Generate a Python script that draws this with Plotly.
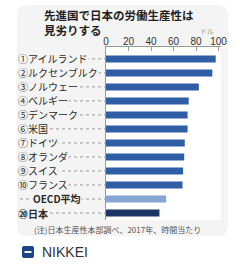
import plotly.graph_objects as go

# ---- data ----
labels = ["①アイルランド", "②ルクセンブルク", "③ノルウェー", "④ベルギー", "⑤デンマーク",
          "⑥米国", "⑦ドイツ", "⑧オランダ", "⑨スイス", "⑩フランス", "OECD平均", "⑳日本"]
values = [97.5, 94.5, 82.5, 73.5, 72.5, 72.5, 70.0, 69.5, 68.5, 68.0, 53.5, 47.5]
tick_vals = [0, 20, 40, 60, 80, 100]
title_lines = ["先進国で日本の労働生産性は", "見劣りする"]
unit_label = "ドル"
footnote = "(注)日本生産性本部調べ、2017年、時間当たり"
brand = "NIKKEI"

# ---- styles ----
MAIN = "#2f5ea6"
OECD = "#85a6d3"
JAPAN = "#1c3564"
CARD = "#f4f4f4"
bar_colors = [OECD if l == "OECD平均" else JAPAN if l == "⑳日本" else MAIN for l in labels]

W, H = 240, 266
L, R, T, B = 106, 19, 47, 46
PW, PH = W - L - R, H - T - B
JP = "Noto Sans CJK JP"


def px(x):
    return (x - L) / PW


def py(y):
    return (H - B - y) / PH


def rounded_rect(x0, y0, x1, y1, r):
    rx = r / PW
    ry = r / PH
    X0, X1 = px(x0), px(x1)
    Y0, Y1 = py(y1), py(y0)
    return (f"M {X0+rx} {Y0} L {X1-rx} {Y0} Q {X1} {Y0} {X1} {Y0+ry} "
            f"L {X1} {Y1-ry} Q {X1} {Y1} {X1-rx} {Y1} L {X0+rx} {Y1} "
            f"Q {X0} {Y1} {X0} {Y1-ry} L {X0} {Y0+ry} Q {X0} {Y0} {X0+rx} {Y0} Z")


fig = go.Figure()
fig.add_trace(go.Bar(
    x=values, y=labels, orientation="h",
    marker=dict(color=bar_colors, line=dict(width=0)),
    width=0.5, hoverinfo="skip",
))

shapes = [
    dict(type="path", xref="paper", yref="paper", path=rounded_rect(17, 5, 228, 236, 10),
         fillcolor=CARD, line=dict(width=0), layer="below"),
    dict(type="rect", xref="paper", yref="paper", x0=0, x1=px(221), y0=0, y1=1,
         fillcolor="white", line=dict(width=0), layer="below"),
    dict(type="path", xref="paper", yref="paper", path=rounded_rect(22, 246, 34, 258, 2),
         fillcolor="#1d4488", line=dict(width=0)),
    dict(type="line", xref="paper", yref="paper", x0=px(24.5), x1=px(31.5), y0=py(252), y1=py(252),
         line=dict(color="white", width=2)),
]
for lab in labels:
    shapes.append(dict(type="line", xref="paper", yref="y", x0=px(20), x1=0, y0=lab, y1=lab,
                       line=dict(color="#9a9a9a", width=1, dash="dot"), layer="above"))

annotations = []
for lab in labels:
    bold = lab in ("OECD平均", "⑳日本")
    xstart = 32 if lab == "OECD平均" else 17
    annotations.append(dict(
        x=px(xstart), xref="paper", y=lab, yref="y", xanchor="left", yanchor="middle",
        text=f"<b>{lab}</b>" if bold else lab, showarrow=False,
        font=dict(family=JP, size=10, color="#2a2a2a"),
        bgcolor=CARD, borderpad=0,
    ))
annotations += [
    dict(x=px(42), y=py(22), xref="paper", yref="paper", xanchor="left", yanchor="middle",
         align="left", text="<br>".join(f"<b>{t}</b>" for t in title_lines), showarrow=False,
         font=dict(family=JP, size=11.5, color="#1e1e1e")),
    dict(x=px(207), y=py(31.5), xref="paper", yref="paper", xanchor="center", yanchor="middle",
         text=unit_label, showarrow=False,
         font=dict(family=JP, size=7, color="#9a9a9a")),
    dict(x=px(32), y=py(229), xref="paper", yref="paper", xanchor="left", yanchor="middle",
         text=footnote, showarrow=False,
         font=dict(family=JP, size=8, color="#555555")),
    dict(x=px(40), y=py(252), xref="paper", yref="paper", xanchor="left", yanchor="middle",
         text=brand, showarrow=False,
         font=dict(family="Liberation Sans", size=14, color="#333333")),
]

fig.update_layout(
    width=W, height=H, autosize=False,
    margin=dict(l=L, r=R, t=T, b=B, pad=0),
    paper_bgcolor="white", plot_bgcolor="rgba(0,0,0,0)",
    showlegend=False, bargap=0.5,
    shapes=shapes, annotations=annotations,
    xaxis=dict(side="top", range=[0, 102.2], tickvals=tick_vals, ticks="inside", ticklen=4,
               tickcolor="#999999", showline=True, linecolor="#999999", linewidth=1,
               showgrid=False, zeroline=False, fixedrange=True, ticklabelstandoff=-3,
               tickfont=dict(family="Liberation Sans", size=10, color="#333333")),
    yaxis=dict(range=[11.5, -0.85], showticklabels=False, ticks="", showline=True,
               linecolor="#999999", linewidth=1, showgrid=False, zeroline=False, fixedrange=True),
)

fig.write_html("out.html", config=dict(displayModeBar=False))
